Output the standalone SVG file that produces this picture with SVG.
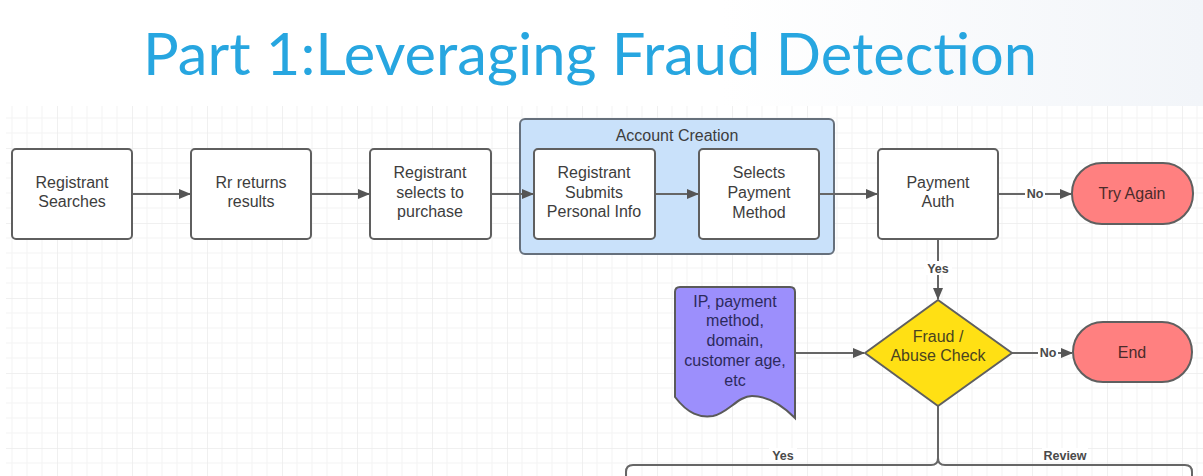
<svg xmlns="http://www.w3.org/2000/svg" width="1203" height="476" viewBox="0 0 1203 476">
  <style>
    .title { font-family: "Lato", "Open Sans", "Liberation Sans", sans-serif; font-size: 59px; fill: #27a6e0; }
    .t { font-family: "Liberation Sans", Arial, sans-serif; font-size: 16px; fill: #3d3d3d; text-anchor: middle; }
    .lbl { font-family: "Liberation Sans", Arial, sans-serif; font-size: 12.5px; font-weight: bold; fill: #4a4a4a; text-anchor: middle; }
    .box { fill: #ffffff; stroke: #5f5f5f; stroke-width: 2; }
    .term { fill: #ff8080; stroke: #5f5f5f; stroke-width: 2; }
    .conn { fill: none; stroke: #666666; stroke-width: 2; }
    .lblbg { fill: #ffffff; }
  </style>
  <defs>
    <linearGradient id="topfade" x1="0" y1="0" x2="1" y2="0">
      <stop offset="0.6" stop-color="#ffffff"/>
      <stop offset="1" stop-color="#f2f5f9"/>
    </linearGradient>
    <pattern id="grid" patternUnits="userSpaceOnUse" x="57" y="73" width="75" height="75">
      <path d="M15,0 V75 M30,0 V75 M45,0 V75 M60,0 V75 M0,15 H75 M0,30 H75 M0,45 H75 M0,60 H75" stroke="#f3f3f3" stroke-width="1" fill="none"/>
      <path d="M0,0 V75 M0,0 H75" stroke="#ebebeb" stroke-width="1.5" fill="none"/>
    </pattern>
    <marker id="arr" markerWidth="12" markerHeight="10" refX="11" refY="5" orient="auto" markerUnits="userSpaceOnUse">
      <path d="M0,0 L12,5 L0,10 Z" fill="#555555"/>
    </marker>
  </defs>

  <!-- page background -->
  <rect x="0" y="0" width="1203" height="476" fill="url(#topfade)"/>
  <rect x="6" y="106" width="1197" height="370" fill="#ffffff"/>
  <rect x="6" y="106" width="1197" height="370" fill="url(#grid)"/>

  <text class="title" x="143" y="75" textLength="894" lengthAdjust="spacingAndGlyphs">Part 1:Leveraging Fraud Detection</text>

  <!-- account creation container -->
  <g id="account-creation">
    <rect x="520" y="119" width="314" height="135" rx="5" fill="#c9e1fa" stroke="#66707c" stroke-width="2"/>
    <text class="t" x="677" y="141">Account Creation</text>
  </g>

  <!-- connectors -->
  <g id="connectors">
    <line class="conn" x1="132" y1="194" x2="190" y2="194" marker-end="url(#arr)"/>
    <line class="conn" x1="311" y1="194" x2="369" y2="194" marker-end="url(#arr)"/>
    <line class="conn" x1="491" y1="194" x2="533" y2="194" marker-end="url(#arr)"/>
    <line class="conn" x1="655" y1="194" x2="698" y2="194" marker-end="url(#arr)"/>
    <line class="conn" x1="819" y1="194" x2="877" y2="194" marker-end="url(#arr)"/>
    <line class="conn" x1="998" y1="194" x2="1071" y2="194" marker-end="url(#arr)"/>
    <line class="conn" x1="938" y1="240" x2="938" y2="299" marker-end="url(#arr)"/>
    <line class="conn" x1="795" y1="353" x2="864" y2="353" marker-end="url(#arr)"/>
    <line class="conn" x1="1012" y1="353" x2="1072" y2="353" marker-end="url(#arr)"/>
    <path class="conn" d="M938,405 L938,458 Q938,465 931,465 L633,465 Q626,465 626,472 L626,478"/>
    <path class="conn" d="M938,458 Q938,465 945,465 L1185,465 Q1192,465 1192,472 L1192,478"/>
    <!-- labels -->
    <rect class="lblbg" x="1025" y="186" width="20" height="14"/>
    <text class="lbl" x="1035" y="198">No</text>
    <rect class="lblbg" x="924" y="261" width="28" height="14"/>
    <text class="lbl" x="938" y="273">Yes</text>
    <rect class="lblbg" x="1038" y="345" width="20" height="14"/>
    <text class="lbl" x="1048" y="357">No</text>
    <rect class="lblbg" x="769" y="448" width="28" height="14"/>
    <text class="lbl" x="783" y="460">Yes</text>
    <rect class="lblbg" x="1042" y="448" width="46" height="14"/>
    <text class="lbl" x="1065" y="460">Review</text>
  </g>

  <g id="registrant-searches">
    <rect class="box" x="12" y="149" width="120" height="90" rx="4"/>
    <text class="t" x="72" y="188">Registrant</text>
    <text class="t" x="72" y="207">Searches</text>
  </g>

  <g id="rr-returns">
    <rect class="box" x="191" y="149" width="120" height="90" rx="4"/>
    <text class="t" x="251" y="188">Rr returns</text>
    <text class="t" x="251" y="207">results</text>
  </g>

  <g id="selects-purchase">
    <rect class="box" x="370" y="149" width="121" height="90" rx="4"/>
    <text class="t" x="430" y="178">Registrant</text>
    <text class="t" x="430" y="198">selects to</text>
    <text class="t" x="430" y="217">purchase</text>
  </g>

  <g id="submits-info">
    <rect class="box" x="534" y="149" width="121" height="90" rx="4"/>
    <text class="t" x="594" y="178">Registrant</text>
    <text class="t" x="594" y="198">Submits</text>
    <text class="t" x="594" y="217">Personal Info</text>
  </g>

  <g id="payment-method">
    <rect class="box" x="699" y="149" width="120" height="90" rx="4"/>
    <text class="t" x="759" y="178">Selects</text>
    <text class="t" x="759" y="198">Payment</text>
    <text class="t" x="759" y="218">Method</text>
  </g>

  <g id="payment-auth">
    <rect class="box" x="878" y="149" width="120" height="90" rx="4"/>
    <text class="t" x="938" y="188">Payment</text>
    <text class="t" x="938" y="207">Auth</text>
  </g>

  <g id="try-again">
    <rect class="term" x="1072" y="163" width="121" height="61" rx="30"/>
    <text class="t" x="1132" y="199" style="fill:#4a2b2b">Try Again</text>
  </g>

  <g id="signals">
    <path d="M675,397 C688,414 700,418 713,416 C728,413 738,396 752,396 C770,396 785,408 795,418 L795,292 Q795,287 790,287 L680,287 Q675,287 675,292 Z" fill="#9c8ffc" stroke="#5a5a5a" stroke-width="2"/>
    <text class="t" x="735" y="307" style="fill:#2c2a5c">IP, payment</text>
    <text class="t" x="735" y="326" style="fill:#2c2a5c">method,</text>
    <text class="t" x="735" y="346" style="fill:#2c2a5c">domain,</text>
    <text class="t" x="735" y="366" style="fill:#2c2a5c">customer age,</text>
    <text class="t" x="735" y="386" style="fill:#2c2a5c">etc</text>
  </g>

  <g id="fraud-check">
    <path d="M938,300 L1012,353 L938,406 L865,353 Z" fill="#ffe014" stroke="#5f5f5f" stroke-width="2" stroke-linejoin="round"/>
    <text class="t" x="938" y="342" style="fill:#4a4420">Fraud /</text>
    <text class="t" x="938" y="361" style="fill:#4a4420">Abuse Check</text>
  </g>

  <g id="end">
    <rect class="term" x="1073" y="322" width="119" height="60" rx="30"/>
    <text class="t" x="1132" y="358" style="fill:#4a2b2b">End</text>
  </g>
</svg>
